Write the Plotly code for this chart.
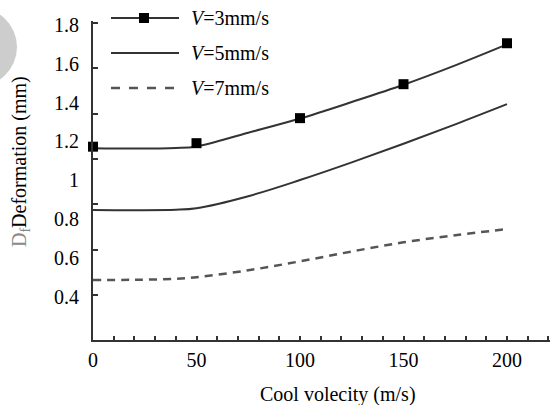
import plotly.graph_objects as go

# Measured points for V=3mm/s (square markers)
velocity_pts = [0, 50, 100, 150, 200]
v3_pts = [1.173, 1.191, 1.320, 1.495, 1.706]

# Fitted curves for each feed speed
velocity_curve = [0, 20, 40, 50, 75, 100, 125, 150, 175, 200]
v3_curve = [1.165, 1.163, 1.166, 1.174, 1.245, 1.318, 1.403, 1.492, 1.592, 1.700]
v5_curve = [0.847, 0.846, 0.848, 0.856, 0.918, 1.001, 1.092, 1.188, 1.288, 1.392]
v7_curve = [0.486, 0.487, 0.492, 0.500, 0.536, 0.582, 0.633, 0.680, 0.717, 0.748]

series_names = ["<i>V</i>=3mm/s", "<i>V</i>=5mm/s", "<i>V</i>=7mm/s"]
y_tick_vals = [0.4, 0.6, 0.8, 1.0, 1.2, 1.4, 1.6, 1.8]
y_tick_text = ["0.4", "0.6", "0.8", "1", "1.2", "1.4", "1.6", "1.8"]
x_tick_vals = [0, 50, 100, 150, 200]
x_tick_text = ["0", "50", "100", "150", "200"]

W, H = 552, 405
L, R, T, B = 93, 2, 21, 65
PW, PH = W - L - R, H - T - B
SERIF = "Liberation Serif"
LINE = "#333333"


def px_x(px):
    return (px - L) / PW


def px_y(py):
    return (H - B - py) / PH


fig = go.Figure()
fig.add_trace(go.Scatter(x=velocity_curve, y=v3_curve, mode="lines",
                         line=dict(color=LINE, width=2, shape="spline"),
                         showlegend=False, cliponaxis=False))
fig.add_trace(go.Scatter(x=velocity_pts, y=v3_pts, mode="markers",
                         marker=dict(symbol="square", size=10, color="black"),
                         showlegend=False, cliponaxis=False))
fig.add_trace(go.Scatter(x=velocity_curve, y=v5_curve, mode="lines",
                         line=dict(color=LINE, width=2, shape="spline"),
                         showlegend=False, cliponaxis=False))
fig.add_trace(go.Scatter(x=velocity_curve, y=v7_curve, mode="lines",
                         line=dict(color="#555555", width=2.5, dash="8px,6px", shape="spline"),
                         showlegend=False, cliponaxis=False))

shapes = []
annotations = []

# Hand-placed key in the upper-left of the plot
key_rows = [18, 53, 88]
key_styles = [dict(color=LINE, width=2), dict(color=LINE, width=2),
              dict(color="#555555", width=2.5, dash="dash")]
for row, name, style in zip(key_rows, series_names, key_styles):
    shapes.append(dict(type="line", xref="paper", yref="paper",
                       x0=px_x(111), x1=px_x(179), y0=px_y(row), y1=px_y(row),
                       line=style))
    annotations.append(dict(text=name, xref="paper", yref="paper",
                            x=px_x(189), y=px_y(row), xanchor="left", yanchor="middle",
                            showarrow=False, font=dict(family=SERIF, size=20, color="black")))
shapes.append(dict(type="rect", xref="paper", yref="paper",
                   x0=px_x(139), x1=px_x(149), y0=px_y(key_rows[0] + 5), y1=px_y(key_rows[0] - 5),
                   fillcolor="black", line=dict(width=0)))

# Faint grey tab at the top-left edge
shapes.append(dict(type="circle", xref="paper", yref="paper", layer="below",
                   x0=px_x(-70), x1=px_x(17), y0=px_y(88), y1=px_y(6),
                   fillcolor="#cdcdcd", line=dict(width=0)))

annotations.append(dict(text="Cool volecity (m/s)", xref="paper", yref="paper",
                        x=px_x(338), y=px_y(394), xanchor="center", yanchor="middle",
                        showarrow=False, font=dict(family=SERIF, size=20, color="black")))
annotations.append(dict(text="<span style='color:#8a8a8a'>D<sub>f</sub></span>Deformation (mm)",
                        xref="paper", yref="paper", textangle=-90,
                        x=px_x(20), y=px_y(162), xanchor="center", yanchor="middle",
                        showarrow=False, font=dict(family=SERIF, size=20, color="black")))

y_lo = 0.4 - (340 - 296.7) / 194.0
y_hi = 1.8 + (25 - 21) / 194.0

fig.update_layout(
    width=W, height=H,
    margin=dict(l=L, r=R, t=T, b=B),
    paper_bgcolor="white", plot_bgcolor="white",
    showlegend=False,
    font=dict(family=SERIF, color="black", size=20),
    shapes=shapes, annotations=annotations,
    xaxis=dict(range=[0, (550 - 93) / 2.07], tickvals=x_tick_vals, ticktext=x_tick_text,
               ticks="inside", ticklen=4, tickwidth=1.5, tickcolor=LINE,
               minor=dict(dtick=10, tick0=0, ticks="inside", ticklen=4, tickwidth=1.5, tickcolor=LINE),
               showline=True, linecolor=LINE, linewidth=2, showgrid=False, zeroline=False,
               ticklabelstandoff=1,
               tickfont=dict(family=SERIF, size=20, color="black")),
    yaxis=dict(range=[y_lo, y_hi], tickvals=y_tick_vals, ticktext=y_tick_text,
               ticks="", showline=True, linecolor=LINE, linewidth=2,
               minor=dict(tick0=1.8 + 2 / 194.0, dtick=45.3 / 194.0, ticks="inside",
                          ticklen=5, tickwidth=1.5, tickcolor=LINE),
               showgrid=False, zeroline=False, ticklabelstandoff=8,
               tickfont=dict(family=SERIF, size=20, color="black")),
)

fig.write_html("out.html")
